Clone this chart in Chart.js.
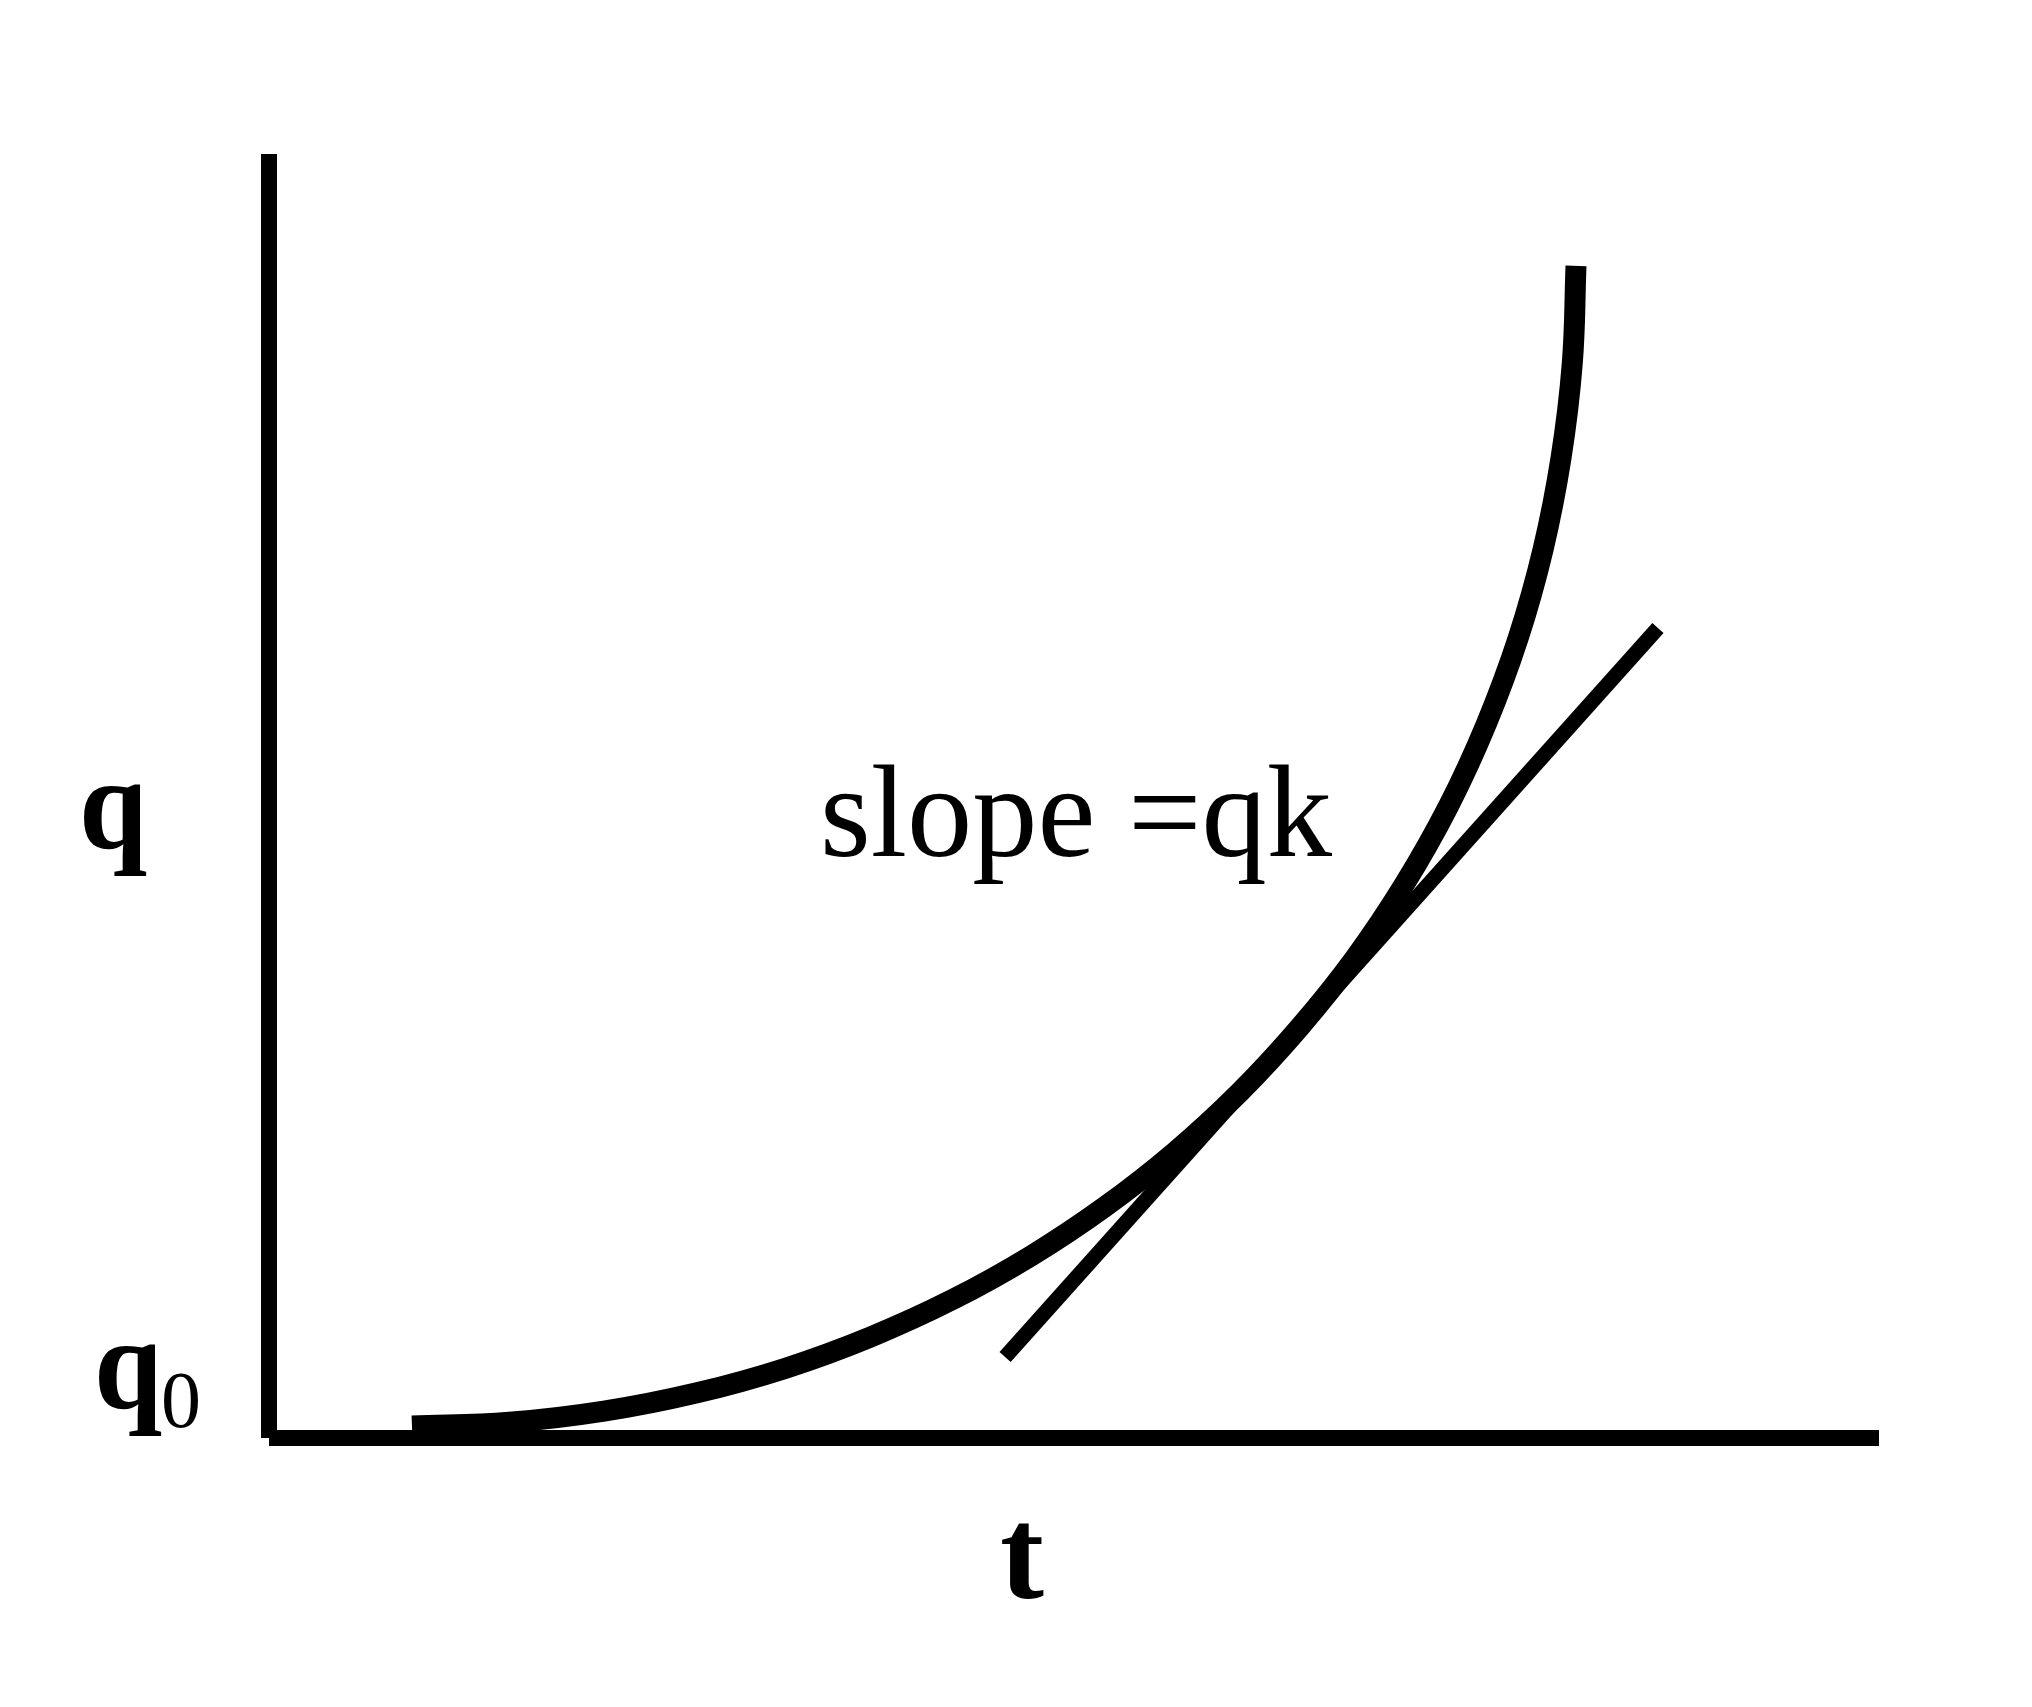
<!DOCTYPE html>
<html>
<head>
<meta charset="utf-8">
<title>q against t</title>
<script src="https://cdn.jsdelivr.net/npm/chart.js@4/dist/chart.umd.min.js"></script>
<style>
  html, body { margin: 0; padding: 0; background: #fff; }
  #caixa { position: relative; width: 2032px; height: 1707px; }
  canvas { display: block; }
  .rotulo {
    position: absolute;
    white-space: nowrap;
    color: #000;
    line-height: 1;
    transform-origin: 0 0;
  }
</style>
</head>
<body>
<div id="caixa">
  <canvas id="grafico" width="2032" height="1707"></canvas>
</div>
<script>
// growth curve q(t) (t and q in arbitrary units, 0..10)
const curvaT = [0.888, 1.492, 2.081, 2.652, 3.205, 3.737, 4.247, 4.733, 5.193, 5.627, 6.031, 6.404, 6.747, 7.054, 7.327, 7.561, 7.758, 7.913, 8.025, 8.095, 8.118];
const curvaQ = [0.093, 0.122, 0.209, 0.350, 0.542, 0.787, 1.079, 1.418, 1.802, 2.228, 2.695, 3.202, 3.741, 4.316, 4.923, 5.561, 6.226, 6.918, 7.633, 8.372, 9.128];

// tangent line, two ends
const tangenteT = [4.572, 8.627];
const tangenteQ = [0.631, 6.308];

// axes run from 0 to 10
const eixoMax = 10;

const serifa = "'Liberation Serif', 'Times New Roman', Times, serif";

// labels: text, baseline position in data units
const rotulos = [
  { texto: "q", t: -1.180, q: 4.595, fonte: "bold 132px " + serifa, escala: 0.93 },
  { texto: "q", t: -1.087, q: 0.234, fonte: "bold 132px " + serifa, escala: 0.93 },
  { texto: "0", t: -0.671, q: 0.086, fonte: "80px " + serifa },
  { texto: "t", t: 4.540, q: -1.246, fonte: "bold 132px " + serifa },
  { texto: "slope =qk", t: 3.422, q: 4.533, fonte: "131px " + serifa, largura: 512 }
];

const pontos = (xs, ys) => xs.map((x, i) => ({ x: x, y: ys[i] }));

function linha(label, xs, ys, largura, extra) {
  return Object.assign({
    label: label,
    data: pontos(xs, ys),
    showLine: true,
    borderColor: '#000',
    borderWidth: largura,
    pointRadius: 0,
    clip: false
  }, extra || {});
}

// text goes on top of the canvas as html, placed with the chart's scales
function poeRotulos(chart) {
  const caixa = document.getElementById('caixa');
  const topoCaixa = caixa.getBoundingClientRect().top;
  rotulos.forEach(r => {
    const px = chart.scales.x.getPixelForValue(r.t);
    const py = chart.scales.y.getPixelForValue(r.q);
    const el = document.createElement('div');
    el.className = 'rotulo';
    el.style.font = r.fonte;
    const txt = document.createElement('span');
    txt.textContent = r.texto;
    const marca = document.createElement('span');
    marca.style.cssText = 'display:inline-block;width:0;height:0;vertical-align:baseline';
    el.appendChild(txt);
    el.appendChild(marca);
    el.style.left = px + 'px';
    el.style.top = '0px';
    caixa.appendChild(el);
    const base = marca.getBoundingClientRect().top - topoCaixa;
    el.style.top = (py - base) + 'px';
    let sx = r.escala || 1;
    if (r.largura) sx = r.largura / txt.getBoundingClientRect().width;
    el.style.transform = 'scaleX(' + sx + ')';
  });
}

const grafico = new Chart(document.getElementById('grafico').getContext('2d'), {
  type: 'scatter',
  data: {
    datasets: [
      linha('eixo q', [0, 0], [0, eixoMax], 16),
      linha('eixo t', [0, eixoMax], [0, 0], 16),
      linha('q(t)', curvaT, curvaQ, 21, { tension: 0.4 }),
      linha('tangente', tangenteT, tangenteQ, 15)
    ]
  },
  options: {
    responsive: false,
    animation: false,
    layout: {
      padding: { left: 269, right: 153, top: 154, bottom: 269 }
    },
    plugins: {
      legend: { display: false },
      tooltip: { enabled: false }
    },
    scales: {
      x: { type: 'linear', min: 0, max: eixoMax, display: false },
      y: { type: 'linear', min: 0, max: eixoMax, display: false }
    }
  }
});

poeRotulos(grafico);
</script>
</body>
</html>
